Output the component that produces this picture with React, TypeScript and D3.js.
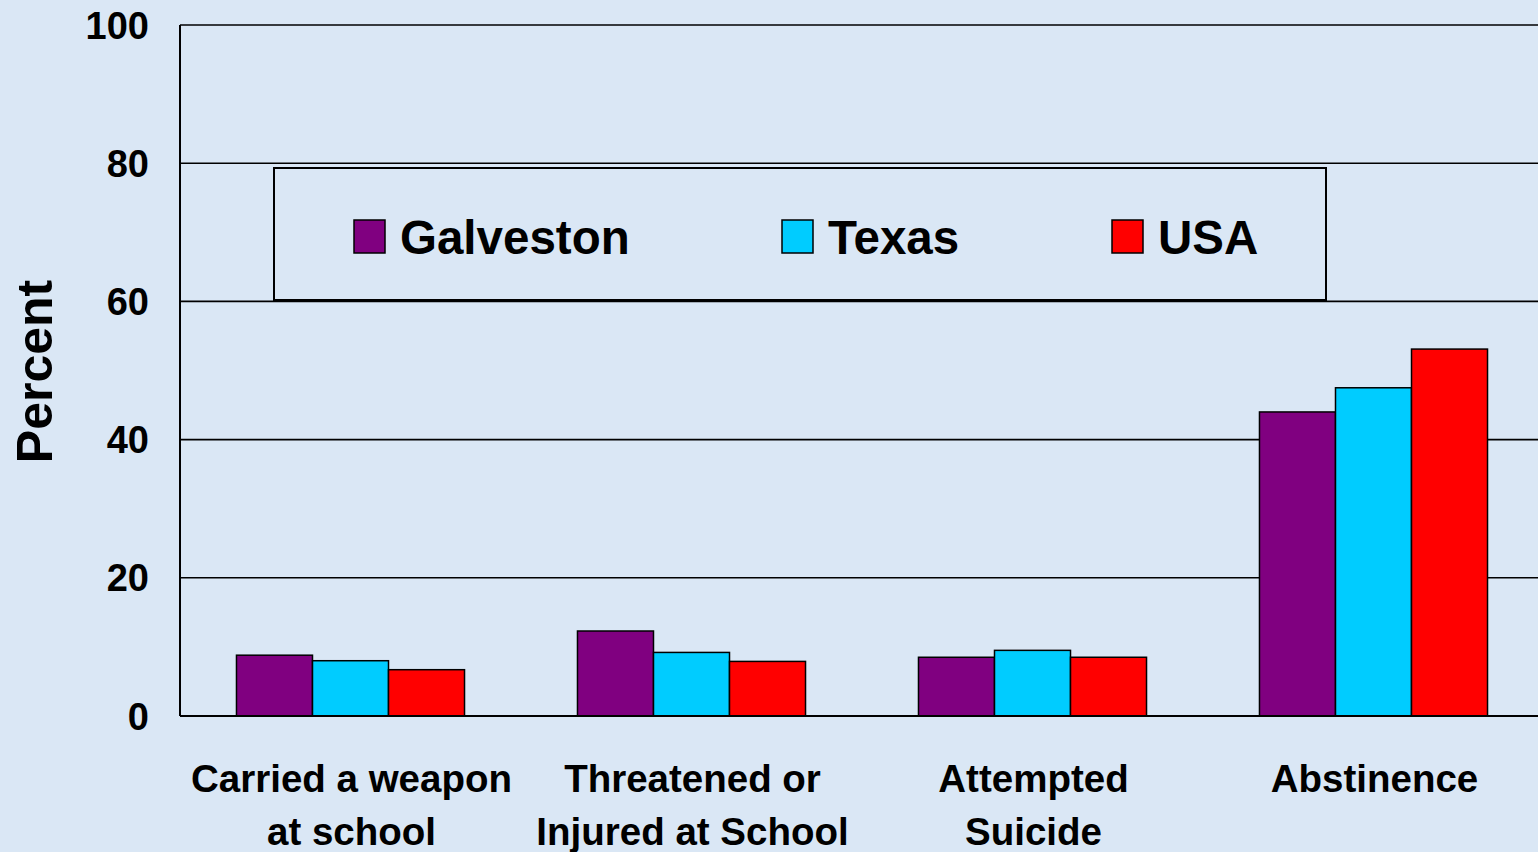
import React from "react";
import * as d3 from "d3";

const categories = [
  ["Carried a weapon", "at school"],
  ["Threatened or", "Injured at School"],
  ["Attempted", "Suicide"],
  ["Abstinence"],
];
const series = ["Galveston", "Texas", "USA"];
const galveston = [8.8, 12.3, 8.5, 44.0];
const texas = [8.0, 9.2, 9.5, 47.5];
const usa = [6.7, 7.9, 8.5, 53.1];
const yTicks = [0, 20, 40, 60, 80, 100];
const colors = ["#800080", "#00CCFF", "#FF0000"];

const W = 1538;
const H = 852;
const FONT = "'Liberation Sans', Arial, Helvetica, sans-serif";

export default function App() {
  const left = 180;
  const top = 25;
  const bottom = 716;
  const right = 1544;
  const values = [galveston, texas, usa];
  const catKeys = categories.map((c) => c.join(" "));

  const x = d3.scaleBand<string>().domain(catKeys).range([left, right]).padding(0);
  const xs = d3
    .scaleBand<string>()
    .domain(series)
    .range([0, x.bandwidth()])
    .paddingInner(0)
    .paddingOuter(0.743);
  const y = d3.scaleLinear().domain([0, 100]).range([bottom, top]);

  const legendX = [354, 782, 1112];

  return (
    <div style={{ position: "fixed", left: 0, top: 0, width: W, height: H, overflow: "hidden" }}>
      <svg width={W} height={H} style={{ display: "block" }}>
        <rect x={0} y={0} width={W} height={H} fill="#DAE7F5" />
        {/* gridlines */}
        {yTicks.map((t) => (
          <line key={t} x1={left} x2={right} y1={y(t)} y2={y(t)} stroke="#000" strokeWidth={1.6} />
        ))}
        <line x1={left} x2={left} y1={top} y2={bottom} stroke="#000" strokeWidth={2} />
        {/* tick labels */}
        {yTicks.map((t) => (
          <text
            key={"l" + t}
            x={149}
            y={y(t)}
            dy="0.36em"
            textAnchor="end"
            fontFamily={FONT}
            fontWeight="bold"
            fontSize={38}
            fill="#000"
          >
            {t}
          </text>
        ))}
        <text
          transform={`translate(52,${371.5}) rotate(-90)`}
          textAnchor="middle"
          fontFamily={FONT}
          fontWeight="bold"
          fontSize={50}
          fill="#000"
        >
          Percent
        </text>
        {/* legend */}
        <rect x={274} y={168} width={1052} height={132} fill="none" stroke="#000" strokeWidth={2} />
        {series.map((s, i) => (
          <g key={s}>
            <rect
              x={legendX[i]}
              y={220}
              width={31}
              height={33}
              fill={colors[i]}
              stroke="#000"
              strokeWidth={1.5}
            />
            <text
              x={legendX[i] + 46}
              y={254}
              fontFamily={FONT}
              fontWeight="bold"
              fontSize={47.5}
              fill="#000"
            >
              {s}
            </text>
          </g>
        ))}
        {/* bars */}
        {catKeys.map((c, ci) => (
          <g key={c} transform={`translate(${x(c)},0)`}>
            {series.map((s, si) => (
              <rect
                key={s}
                x={xs(s)}
                y={y(values[si][ci])}
                width={xs.bandwidth()}
                height={y(0) - y(values[si][ci])}
                fill={colors[si]}
                stroke="#000"
                strokeWidth={1.5}
              />
            ))}
          </g>
        ))}
        <line x1={left} x2={right} y1={bottom} y2={bottom} stroke="#000" strokeWidth={2} />
        {/* category labels */}
        {categories.map((lines, ci) => (
          <text
            key={ci}
            textAnchor="middle"
            fontFamily={FONT}
            fontWeight="bold"
            fontSize={38.5}
            fill="#000"
          >
            {lines.map((l, li) => (
              <tspan key={li} x={(x(catKeys[ci]) as number) + x.bandwidth() / 2 + 1} y={792 + li * 53}>
                {l}
              </tspan>
            ))}
          </text>
        ))}
      </svg>
    </div>
  );
}
